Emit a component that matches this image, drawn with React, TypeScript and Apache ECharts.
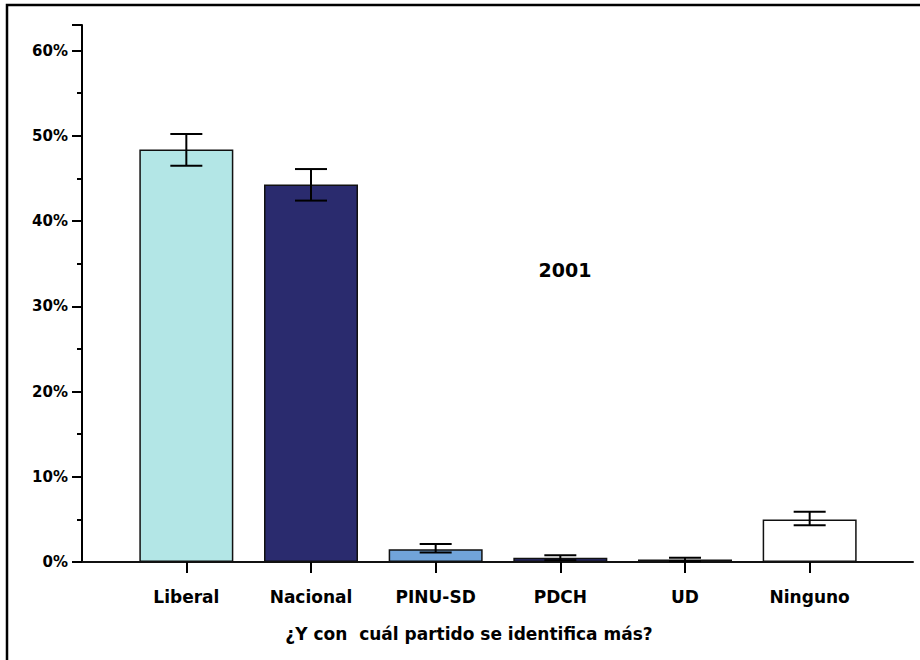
import React, { useEffect, useRef } from "react";
import * as echarts from "echarts";

const categories = ["Liberal", "Nacional", "PINU-SD", "PDCH", "UD", "Ninguno"];
const values = [48.4, 44.3, 1.5, 0.5, 0.3, 5.0];
const errLow = [46.5, 42.4, 1.1, 0.2, 0.1, 4.3];
const errHigh = [50.2, 46.1, 2.1, 0.8, 0.5, 5.9];
const barColors = ["#b3e6e6", "#2a2b6e", "#71a4da", "#2a2b6e", "#1e1f55", "#ffffff"];
const yMin = 0;
const yMax = 63;
const yInterval = 10;
const xTitle = "¿Y con  cuál partido se identifica más?";
const yearLabel = "2001";

const FONT = "'DejaVu Sans', Arial, sans-serif";

export default function App() {
  const ref = useRef<HTMLDivElement>(null);
  useEffect(() => {
    document.body.style.margin = "0";
    const chart = echarts.init(ref.current!, null, { renderer: "svg" });
    chart.setOption({
      animation: false,
      backgroundColor: "#ffffff",
      grid: [
        { left: 124, right: 48, top: 25, bottom: 98 },
        { left: 82, right: 7, top: 25, bottom: 98 },
      ],
      xAxis: [
        {
          type: "category",
          gridIndex: 0,
          data: categories,
          axisLine: { show: false },
          axisTick: { show: true, alignWithLabel: true, length: 11, lineStyle: { color: "#000", width: 2 } },
          axisLabel: { margin: 26, color: "#000", fontSize: 17, fontWeight: "bold", fontFamily: FONT },
          splitLine: { show: false },
        },
        {
          type: "value",
          gridIndex: 1,
          min: 0,
          max: 1,
          axisLine: { show: true, onZero: false, lineStyle: { color: "#111", width: 2 } },
          axisTick: { show: false },
          axisLabel: { show: false },
          splitLine: { show: false },
        },
      ],
      yAxis: [
        {
          type: "value",
          gridIndex: 0,
          min: yMin,
          max: yMax,
          interval: yInterval,
          show: false,
          splitLine: { show: false },
        },
        {
          type: "value",
          gridIndex: 1,
          min: yMin,
          max: yMax,
          interval: yInterval,
          axisLine: { show: true, lineStyle: { color: "#000", width: 2 } },
          axisTick: { show: true, length: 10, lineStyle: { color: "#000", width: 2 } },
          minorTick: { show: true, splitNumber: 2, length: 5, lineStyle: { color: "#000", width: 2 } },
          axisLabel: {
            margin: 14,
            color: "#000",
            fontSize: 15,
            fontWeight: "bold",
            fontFamily: FONT,
            showMaxLabel: false,
            formatter: "{value}%",
          },
          splitLine: { show: false },
        },
      ],
      series: [
        {
          type: "bar",
          xAxisIndex: 0,
          yAxisIndex: 0,
          barWidth: 94,
          data: values.map((v, i) => ({
            value: v,
            itemStyle: { color: barColors[i], borderColor: "#111", borderWidth: 1.5 },
          })),
        },
        {
          type: "custom",
          xAxisIndex: 0,
          yAxisIndex: 0,
          data: categories.map((c, i) => [i, errLow[i], errHigh[i]]),
          encode: { x: 0, y: [1, 2] },
          z: 5,
          renderItem: (params: any, api: any) => {
            const x = api.value(0);
            const lo = api.coord([x, api.value(1)]);
            const hi = api.coord([x, api.value(2)]);
            const half = 16;
            const style = { stroke: "#000", lineWidth: 2 };
            return {
              type: "group",
              children: [
                { type: "line", shape: { x1: hi[0], y1: hi[1], x2: lo[0], y2: lo[1] }, style },
                { type: "line", shape: { x1: hi[0] - half, y1: hi[1], x2: hi[0] + half, y2: hi[1] }, style },
                { type: "line", shape: { x1: lo[0] - half, y1: lo[1], x2: lo[0] + half, y2: lo[1] }, style },
              ],
            };
          },
        },
      ],
      graphic: [
        {
          type: "rect",
          shape: { x: 7, y: 5, width: 1000, height: 1000 },
          style: { fill: "none", stroke: "#000", lineWidth: 2.5 },
          silent: true,
        },
        {
          type: "text",
          x: 565,
          y: 270,
          style: {
            text: yearLabel,
            fontSize: 19,
            fontWeight: "bold",
            fontFamily: FONT,
            fill: "#000",
            align: "center",
            verticalAlign: "middle",
          },
        },
        {
          type: "text",
          x: 469,
          y: 634,
          style: {
            text: xTitle,
            fontSize: 17,
            fontWeight: "bold",
            fontFamily: FONT,
            fill: "#000",
            align: "center",
            verticalAlign: "middle",
          },
        },
      ],
    });
    return () => chart.dispose();
  }, []);
  return <div ref={ref} style={{ width: 920, height: 660 }} />;
}
